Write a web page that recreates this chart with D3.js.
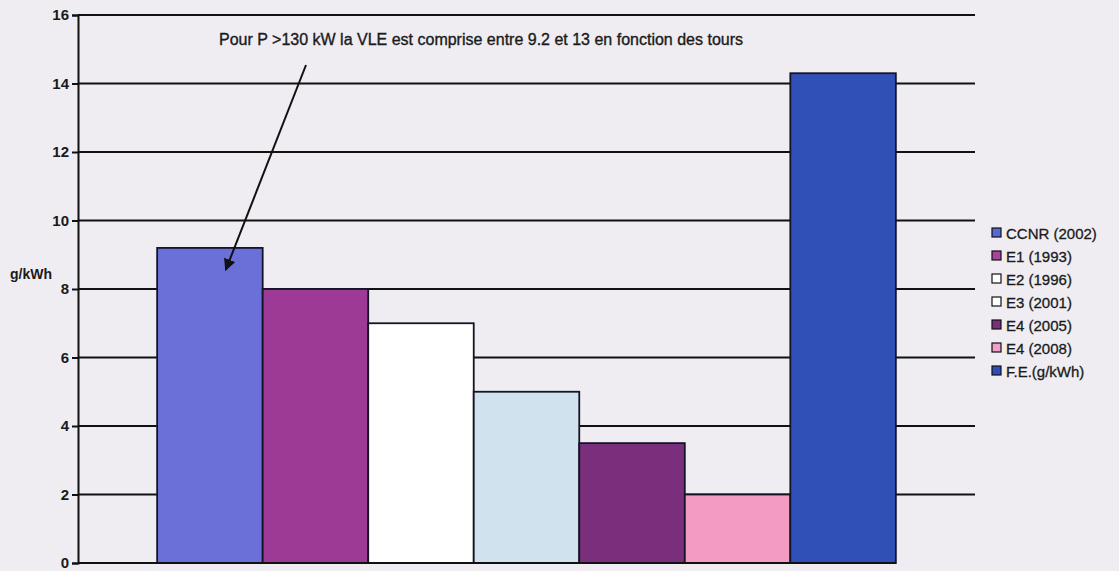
<!DOCTYPE html>
<html>
<head>
<meta charset="utf-8">
<script src="https://cdn.jsdelivr.net/npm/d3@7"></script>
<style>
  html, body { margin: 0; padding: 0; background: #efedf2; }
  svg { display: block; font-family: "Liberation Sans", Arial, sans-serif; }
</style>
</head>
<body>
<svg id="chart" width="1119" height="571"></svg>
<script>
// Series (one bar each, single category)
const series = ["CCNR (2002)", "E1 (1993)", "E2 (1996)", "E3 (2001)", "E4 (2005)", "E4 (2008)", "F.E.(g/kWh)"];
const values = [9.2, 8.0, 7.0, 5.0, 3.5, 2.0, 14.3];
const colors = ["#6a70d8", "#9c3a96", "#ffffff", "#cfe2ee", "#7a2f7d", "#f29cc3", "#3050b8"];
const legendColors = ["#5a66d6", "#a8449c", "#ffffff", "#ffffff", "#7a2f7d", "#f0a0c8", "#2f4cb8"];
const yTicks = [0, 2, 4, 6, 8, 10, 12, 14, 16];
const yLabel = "g/kWh";
const note = "Pour  P >130 kW la VLE est comprise entre 9.2 et 13 en fonction des tours";

const svg = d3.select("#chart");
const plot = { left: 78, right: 975, top: 15, bottom: 563 };

const y = d3.scaleLinear().domain([0, 16]).range([plot.bottom, plot.top]);

// One category, bars side by side; 150% gap split either side of the group
const groupW = (plot.right - plot.left) / (1 + 1.5 / series.length);
const gap = (plot.right - plot.left - groupW) / 2;
const x = d3.scaleBand().domain(series)
  .range([plot.left + gap, plot.right - gap]).padding(0);

// Gridlines
svg.append("g")
  .selectAll("line").data(yTicks.filter(d => d > 0)).join("line")
  .attr("x1", plot.left).attr("x2", plot.right)
  .attr("y1", d => y(d)).attr("y2", d => y(d))
  .attr("stroke", "#111").attr("stroke-width", 2);

// Bars
svg.append("g")
  .selectAll("rect").data(series).join("rect")
  .attr("x", d => x(d))
  .attr("width", x.bandwidth())
  .attr("y", (d, i) => y(values[i]))
  .attr("height", (d, i) => y(0) - y(values[i]))
  .attr("fill", (d, i) => colors[i])
  .attr("stroke", "#141428").attr("stroke-width", 1.8);

// Y axis
const yAxis = d3.axisLeft(y).tickValues(yTicks).tickSize(6).tickPadding(3).tickFormat(d3.format("d"));
const ag = svg.append("g").attr("transform", `translate(${plot.left},0)`).call(yAxis);
ag.select(".domain").attr("stroke", "#111").attr("stroke-width", 2);
ag.selectAll(".tick line").attr("stroke", "#111").attr("stroke-width", 2);
ag.selectAll(".tick text").attr("font-size", 15).attr("font-weight", "bold").attr("fill", "#1a1a1a");

// Baseline
svg.append("line")
  .attr("x1", plot.left).attr("x2", x(series[series.length - 1]) + x.bandwidth())
  .attr("y1", y(0)).attr("y2", y(0))
  .attr("stroke", "#111").attr("stroke-width", 2);

// Axis title
svg.append("text").attr("x", 10).attr("y", 279)
  .attr("font-size", 14).attr("font-weight", "bold").attr("fill", "#1a1a1a")
  .text(yLabel);

// Annotation with arrow pointing at the CCNR bar
svg.append("text").attr("x", 481).attr("y", 45).attr("text-anchor", "middle")
  .attr("font-size", 16).attr("fill", "#1a1a1a")
  .attr("stroke", "#1a1a1a").attr("stroke-width", 0.35)
  .text(note);

const defs = svg.append("defs");
defs.append("marker").attr("id", "arrow").attr("viewBox", "0 0 10 10")
  .attr("refX", 9).attr("refY", 5).attr("markerWidth", 6).attr("markerHeight", 6)
  .attr("orient", "auto")
  .append("path").attr("d", "M0,0 L10,5 L0,10 z").attr("fill", "#111");

const tipX = x(series[0]) + x.bandwidth() * 0.65;
svg.append("line")
  .attr("x1", 306).attr("y1", 65)
  .attr("x2", tipX).attr("y2", y(values[0]) + 22)
  .attr("stroke", "#111").attr("stroke-width", 2)
  .attr("marker-end", "url(#arrow)");

// Legend
const lg = svg.append("g").attr("transform", "translate(992,233)");
const items = lg.selectAll("g").data(series).join("g")
  .attr("transform", (d, i) => `translate(0,${i * 23})`);
items.append("rect").attr("x", 0).attr("y", -5).attr("width", 9).attr("height", 9)
  .attr("fill", (d, i) => legendColors[i]).attr("stroke", "#111").attr("stroke-width", 1.2);
items.append("text").attr("x", 14).attr("y", 5.5)
  .attr("font-size", 15).attr("fill", "#1a1a1a")
  .attr("stroke", "#1a1a1a").attr("stroke-width", 0.3)
  .text(d => d);
</script>
</body>
</html>
